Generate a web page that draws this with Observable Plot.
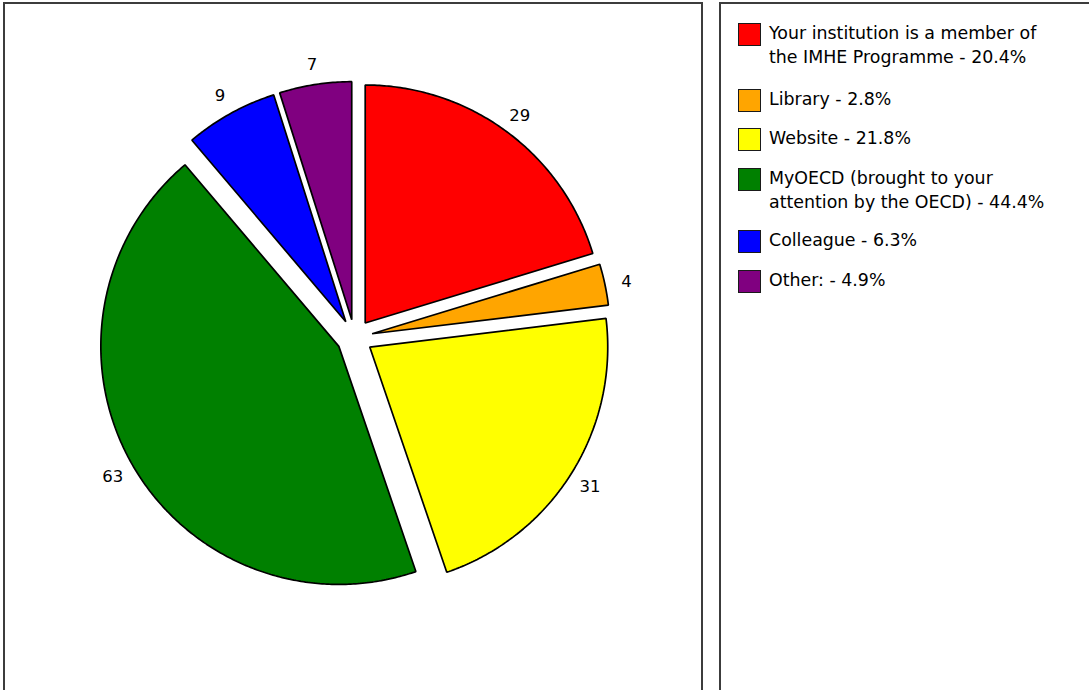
<!DOCTYPE html>
<html><head><meta charset="utf-8">
<script src="https://cdn.jsdelivr.net/npm/d3@7"></script>
<script src="https://cdn.jsdelivr.net/npm/@observablehq/plot@0.6"></script>
<style>
body{margin:0;background:#fff;font-family:"DejaVu Sans",sans-serif;color:#000;}
#wrap{position:relative;width:1089px;height:690px;overflow:hidden;}
.panel{position:absolute;box-sizing:border-box;border:2px solid #3c3c3c;pointer-events:none;}
#legend{position:absolute;left:738px;top:21px;display:flex;flex-direction:column;gap:14.6px;}
.item{display:flex;align-items:flex-start;}
.sw{width:21px;height:21px;border:1.5px solid #1a1a1a;margin-top:2px;flex:none;}
.lab{margin-left:8px;width:292px;font-size:17.4px;line-height:24px;}
</style></head><body>
<div id="wrap">
  <div id="chart" style="position:absolute;left:0;top:0;"></div>
  <div class="panel" style="left:3px;top:2px;width:700px;height:690px"></div>
  <div class="panel" style="left:719px;top:2px;width:380px;height:690px"></div>
  <div id="legend"></div>
</div>
<script>
const categories = ["Your institution is a member of the IMHE Programme", "Library", "Website", "MyOECD (brought to your attention by the OECD)", "Colleague", "Other:"];
const counts = [29, 4, 31, 63, 9, 7];
const percentLabels = ["20.4%", "2.8%", "21.8%", "44.4%", "6.3%", "4.9%"];
const colors = ["#ff0000", "#ffa500", "#ffff00", "#008000", "#0000ff", "#800080"];

const W = 701, H = 690;
const cx = 354, cy = 337;      // pie centre in px
const R = 238, explode = 18, labelR = 278;

const arcs = d3.pie().sort(null).value(d => d)(counts);
const poly = [];
const labels = [];
arcs.forEach((a, i) => {
  const mid = (a.startAngle + a.endAngle) / 2;
  const ox = Math.sin(mid) * explode, oy = -Math.cos(mid) * explode;
  poly.push({cat: categories[i], x: ox, y: oy});
  const n = Math.max(2, Math.ceil((a.endAngle - a.startAngle) / 0.01));
  for (let k = 0; k <= n; k++) {
    const t = a.startAngle + (a.endAngle - a.startAngle) * k / n;
    poly.push({cat: categories[i], x: ox + Math.sin(t) * R, y: oy - Math.cos(t) * R});
  }
  labels.push({text: String(counts[i]), x: Math.sin(mid) * labelR, y: -Math.cos(mid) * labelR + 1.5});
});

const chart = Plot.plot({
  width: W, height: H,
  margin: 0,
  x: {domain: [-cx, W - cx], range: [0, W], axis: null},
  y: {domain: [-cy, H - cy], range: [0, H], axis: null},
  color: {domain: categories, range: colors},
  style: {background: "transparent"},
  marks: [
    Plot.line(poly, {x: "x", y: "y", z: "cat", fill: "cat", stroke: "#000", strokeWidth: 1.7, curve: "linear-closed", strokeLinejoin: "miter"}),
    Plot.text(labels, {x: "x", y: "y", text: "text", fontSize: 16.5, fontFamily: "DejaVu Sans", fill: "#000", textAnchor: "middle"})
  ]
});
document.getElementById("chart").appendChild(chart);

const leg = document.getElementById("legend");
categories.forEach((c, i) => {
  const it = document.createElement("div");
  it.className = "item";
  if (i === 0) it.style.marginBottom = "3px";
  const sw = document.createElement("div");
  sw.className = "sw";
  sw.style.background = colors[i];
  const lb = document.createElement("div");
  lb.className = "lab";
  lb.textContent = c + " - " + percentLabels[i];
  it.appendChild(sw); it.appendChild(lb);
  leg.appendChild(it);
});
</script>
</body></html>
